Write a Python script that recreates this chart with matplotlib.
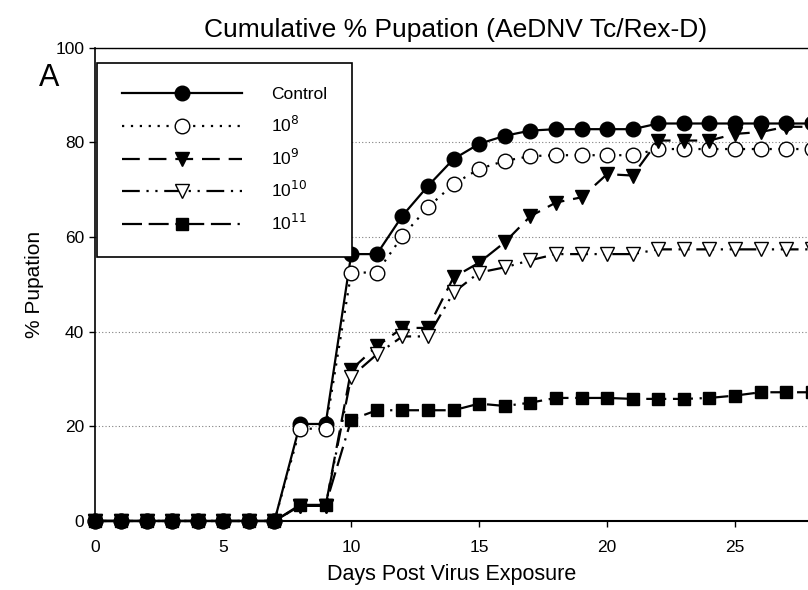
import numpy as np
import matplotlib.pyplot as plt

plt.rcParams['font.family'] = ['Liberation Sans', 'DejaVu Sans']

days = list(range(0, 29))
control = [0, 0, 0, 0, 0, 0, 0, 0, 20.5, 20.5, 56.4, 56.4, 64.5, 70.8, 76.5, 79.7,
           81.4, 82.5, 82.8, 82.8, 82.8, 82.8, 84, 84, 84, 84, 84, 84, 84]
dose_1e8 = [0, 0, 0, 0, 0, 0, 0, 0, 19.5, 19.5, 52.5, 52.5, 60.2, 66.3, 71.2, 74.4,
            76.1, 77.1, 77.3, 77.3, 77.3, 77.3, 78.6, 78.6, 78.6, 78.6, 78.6, 78.6, 78.6]
dose_1e9 = [0, 0, 0, 0, 0, 0, 0, 0, 3.2, 3.2, 32, 36.9, 40.8, 40.8, 51.5, 54.6,
            58.9, 64.4, 67.3, 68.4, 73.3, 73, 80.4, 80.4, 80.4, 81.8, 82.2, 83.3, 83.3]
dose_1e10 = [0, 0, 0, 0, 0, 0, 0, 0, 3.2, 3.2, 30.5, 35.2, 39, 39, 48.3, 52.5,
             53.6, 55.1, 56.4, 56.4, 56.4, 56.4, 57.4, 57.4, 57.4, 57.4, 57.4, 57.4, 57.4]
dose_1e11 = [0, 0, 0, 0, 0, 0, 0, 0, 3.4, 3.4, 21.4, 23.4, 23.4, 23.4, 23.4, 24.8,
             24.3, 25, 26, 26, 26, 25.8, 25.8, 25.8, 26, 26.5, 27.2, 27.2, 27.2]
labels = ['Control', '10$^{8}$', '10$^{9}$', '10$^{10}$', '10$^{11}$']

fig = plt.figure(figsize=(8.08, 5.9), dpi=100)
ax = fig.add_axes([0.118, 0.117, 0.882, 0.802])

kw = dict(color='black', lw=1.6, ms=10.5, clip_on=False)
ax.plot(days, control, ls='-', marker='o', mfc='black', **kw)
ax.plot(days, dose_1e8, ls=(0, (1, 3)), marker='o', mfc='white', **kw)
ax.plot(days, dose_1e9, ls=(0, (8, 4)), marker='v', mfc='black', **kw)
ax.plot(days, dose_1e10, ls=(0, (8, 3, 1, 3, 1, 3)), marker='v', mfc='white', **kw)
ax.plot(days, dose_1e11, ls=(0, (9, 3, 9, 3, 1, 3)), marker='s', mfc='black', ms=9,
        color='black', lw=1.6, clip_on=False)

ax.set_xlim(0, 27.85)
ax.set_ylim(0, 100)
ax.set_xticks([0, 5, 10, 15, 20, 25])
ax.set_yticks([0, 20, 40, 60, 80, 100])
ax.tick_params(axis='x', labelsize=12.5, direction='out', length=4, width=1, pad=10)
ax.tick_params(axis='y', labelsize=12.5, direction='out', length=4, width=1, pad=4)
ax.yaxis.grid(True, ls=(0, (1, 2)), color='gray', lw=0.8)
ax.set_axisbelow(True)
ax.spines['right'].set_visible(False)
ax.spines['top'].set_linewidth(1.0)
ax.spines['left'].set_linewidth(1.2)
ax.spines['bottom'].set_linewidth(1.5)

ax.set_xlabel('Days Post Virus Exposure', fontsize=15.5, labelpad=6)
ax.set_ylabel('% Pupation', fontsize=15, labelpad=8)
ax.set_title('Cumulative % Pupation (AeDNV Tc/Rex-D)', fontsize=19, pad=8, x=0.505)
fig.text(0.048, 0.855, 'A', fontsize=22)

leg = ax.legend(labels, loc='upper left', bbox_to_anchor=(0.003, 0.968), fontsize=12.5,
                handlelength=6.9, handletextpad=1.7, labelspacing=0.72,
                borderpad=1.4, borderaxespad=0, fancybox=False, framealpha=1,
                edgecolor='black')
leg.get_frame().set_linewidth(1.2)

fig.savefig('out.png', dpi=100)
